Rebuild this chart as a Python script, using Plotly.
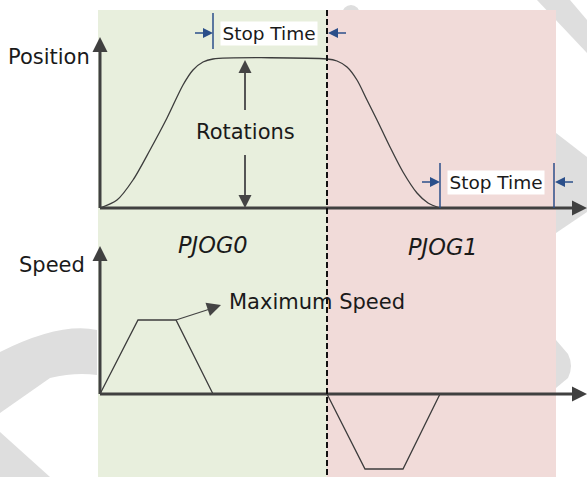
import plotly.graph_objects as go

# position profile, PJOG0 forward move then PJOG1 return (time px, position px)
pos_t = [100, 117, 133, 150, 167, 183, 193, 203, 213, 327, 337, 347, 357, 367, 377, 390, 403, 417, 428, 440]
pos_y = [208, 200, 180, 150, 118, 85, 70, 62, 59, 59, 61, 67, 80, 100, 120, 147, 172, 193, 203, 208]

# speed profile (trapezoids)
spd_fwd_t = [100, 138, 176, 213]
spd_fwd_v = [394, 320, 320, 394]
spd_rev_t = [327, 365, 403, 440]
spd_rev_v = [394, 469, 469, 394]

region_labels = ["PJOG0", "PJOG1"]
axis_labels = ["Position", "Speed"]
rot_label = "Rotations"
stop_label = "Stop Time"
max_label = "Maximum Speed"

AX = "#404040"
CURVE = "#3c3c3c"
BLUE = "#2b4f8a"
TXT = "#1a1a1a"
FONT = "DejaVu Sans, Verdana, sans-serif"
WM = "#dedede"

fig = go.Figure()


def seg(x, y, color=CURVE, width=1.3, dash=None):
    fig.add_trace(go.Scatter(x=x, y=y, mode="lines", hoverinfo="skip",
                             line=dict(color=color, width=width, dash=dash),
                             showlegend=False))


def head(x, y, symbol, size, color=AX, angle=0):
    fig.add_trace(go.Scatter(x=[x], y=[y], mode="markers", hoverinfo="skip",
                             marker=dict(symbol=symbol, size=size, color=color,
                                         angle=angle, line=dict(width=0)),
                             showlegend=False))


# curves
fig.add_trace(go.Scatter(x=pos_t, y=pos_y, mode="lines", line_shape="spline",
                         line=dict(color=CURVE, width=1.3, smoothing=0.8),
                         hoverinfo="skip", showlegend=False))
seg(spd_fwd_t, spd_fwd_v)
seg(spd_rev_t, spd_rev_v)

# axes with arrow heads
for y0, top in [(208, 37), (394, 246)]:
    seg([100, 100], [y0, top + 10], color=AX, width=3)
    head(100, top, "arrow-up", 15)
    seg([100, 575], [y0, y0], color=AX, width=3)
    head(587, y0, "arrow-right", 15)

# rotations double arrow
seg([245, 245], [70, 110], color="#555555", width=2)
seg([245, 245], [155, 198], color="#555555", width=2)
head(245, 60, "arrow-up", 13, color="#444444")
head(245, 208, "arrow-down", 13, color="#444444")

# maximum speed pointer
seg([176, 210], [320, 309], color="#444444", width=1.3)
head(221, 305, "arrow-up", 14, color="#444444", angle=71.6)

# stop time markers
seg([213, 213], [13, 49], color=BLUE, width=1.5)
seg([195, 206], [33, 33], color=BLUE, width=1.5)
head(213, 33, "arrow-right", 10, color=BLUE)
seg([335, 346], [33, 33], color=BLUE, width=1.5)
head(328, 33, "arrow-left", 10, color=BLUE)

seg([440, 440], [163, 208], color=BLUE, width=1.5)
seg([554, 554], [163, 208], color=BLUE, width=1.5)
seg([422, 433], [182, 182], color=BLUE, width=1.5)
head(440, 182, "arrow-right", 10, color=BLUE)
seg([562, 573], [182, 182], color=BLUE, width=1.5)
head(555, 182, "arrow-left", 10, color=BLUE)

shapes = [
    # watermark pieces
    dict(type="path", path="M97,330 Q60,322 0,352 L0,413 L50,378 Q75,372 97,375 Z",
         fillcolor=WM, line_width=0, layer="below"),
    dict(type="path", path="M0,432 L50,477 L0,477 Z", fillcolor=WM, line_width=0, layer="below"),
    dict(type="path", path="M537,0 L570,0 L587,20 L587,53 Z", fillcolor=WM, line_width=0, layer="below"),
    dict(type="path", path="M556,133 L587,157 L587,212 L556,233 Z", fillcolor=WM, line_width=0, layer="below"),
    dict(type="path", path="M556,340 L568,354 Q574,366 568,378 L556,388 Z",
         fillcolor=WM, line_width=0, layer="below"),
    dict(type="circle", x0=342, x1=360, y0=5, y1=23, fillcolor=WM, line_width=0, layer="below"),
    # region backgrounds
    dict(type="rect", x0=98, x1=327, y0=10, y1=477, fillcolor="#e8efdd", line_width=0, layer="below"),
    dict(type="rect", x0=327, x1=556, y0=10, y1=477, fillcolor="#f1dbd9", line_width=0, layer="below"),
    # boundary between the two jogs
    dict(type="line", x0=327, x1=327, y0=10, y1=477,
         line=dict(color="#111111", width=2, dash="6px,3px")),
]

annotations = [
    dict(x=92, y=57, text=axis_labels[0], xanchor="right", size=21),
    dict(x=87, y=265, text=axis_labels[1], xanchor="right", size=21),
    dict(x=245, y=132, text=rot_label, xanchor="center", size=21),
    dict(x=213, y=245, text="<i>%s</i>" % region_labels[0], xanchor="center", size=22.5),
    dict(x=443, y=247, text="<i>%s</i>" % region_labels[1], xanchor="center", size=22.5),
    dict(x=227, y=302, text=max_label, xanchor="left", size=21),
]
ann = []
for a in annotations:
    ann.append(dict(x=a["x"], y=a["y"], text=a["text"], xanchor=a["xanchor"], yanchor="middle",
                    showarrow=False, font=dict(family=FONT, size=a["size"], color=TXT)))
for cx, cy in [(269, 33.5), (496, 182)]:
    ann.append(dict(x=cx, y=cy, text=stop_label, showarrow=False, xanchor="center", yanchor="middle",
                    bgcolor="white", width=96, height=23, borderpad=0,
                    font=dict(family=FONT, size=18.5, color=TXT)))

fig.update_layout(
    width=587, height=477,
    margin=dict(l=0, r=0, t=0, b=0),
    plot_bgcolor="white", paper_bgcolor="white",
    xaxis=dict(range=[0, 587], visible=False, fixedrange=True),
    yaxis=dict(range=[477, 0], visible=False, fixedrange=True),
    shapes=shapes,
    annotations=ann,
    showlegend=False,
)

# page body has a default 8px margin; remove it so the figure fills the window
fig.write_html("out.html", config={"displayModeBar": False},
               post_script="document.body.style.margin='0px';")
